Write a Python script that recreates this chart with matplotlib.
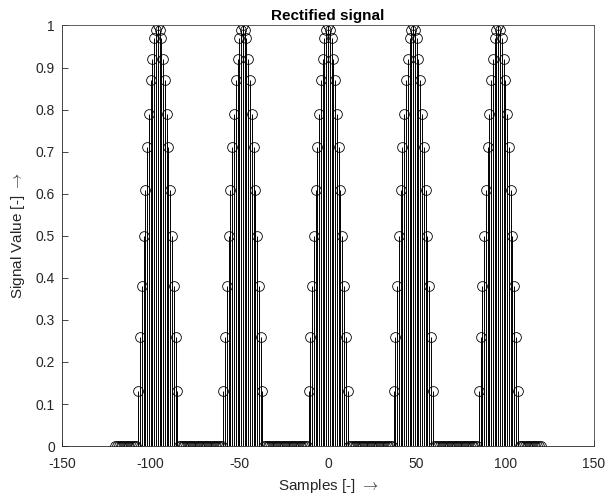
import numpy as np
import matplotlib
matplotlib.use('Agg')
import matplotlib.pyplot as plt

plt.rcParams['font.family'] = ['Liberation Sans', 'DejaVu Sans']
plt.rcParams['axes.unicode_minus'] = False
plt.rcParams['mathtext.fontset'] = 'cm'

# one hump of the rectified signal, 25 samples wide
hump = [0.00, 0.13, 0.26, 0.38, 0.50, 0.61, 0.71, 0.79, 0.87, 0.92, 0.97, 0.99, 1.00,
        0.99, 0.97, 0.92, 0.87, 0.79, 0.71, 0.61, 0.50, 0.38, 0.26, 0.13, 0.00]
centres = [-96, -48, 0, 48, 96]
n_first, n_last = -120, 120

samples = np.arange(n_first, n_last + 1)
signal = np.zeros(len(samples))
half = len(hump) // 2
for c in centres:
    i0 = c - half - n_first
    signal[i0:i0 + len(hump)] = hump

fig = plt.figure(figsize=(6.08, 4.99), dpi=100)
ax = fig.add_axes([0.102, 0.106, 0.875, 0.843])

ax.vlines(samples, 0, signal, color='k', linewidth=0.7)
ax.plot(samples, signal, 'o', markersize=7, markerfacecolor='none',
        markeredgecolor='k', markeredgewidth=0.6)

ax.set_xlim(-150, 150)
ax.set_ylim(0, 1)
ax.set_xticks([-150, -100, -50, 0, 50, 100, 150])
ax.set_yticks(np.arange(0, 1.01, 0.1))
ax.set_yticklabels(['0', '0.1', '0.2', '0.3', '0.4', '0.5', '0.6', '0.7', '0.8', '0.9', '1'])
ax.tick_params(direction='in', length=4, width=0.6, labelsize=10, colors='#262626')
ax.tick_params(axis='x', pad=8)
ax.tick_params(axis='y', pad=5)
for s in ['left', 'bottom']:
    ax.spines[s].set_linewidth(0.6)
    ax.spines[s].set_color('#262626')
for s in ['top', 'right']:
    ax.spines[s].set_linewidth(0.6)
    ax.spines[s].set_color('#444444')

ax.set_xlabel(r'Samples [-] $\rightarrow$', fontsize=11, color='#262626', labelpad=4)
ax.set_ylabel(r'Signal Value [-] $\rightarrow$', fontsize=11, color='#262626', labelpad=6)
ax.set_title('Rectified signal', fontsize=11, fontweight='bold', pad=4)

fig.savefig('out.png', dpi=100)
